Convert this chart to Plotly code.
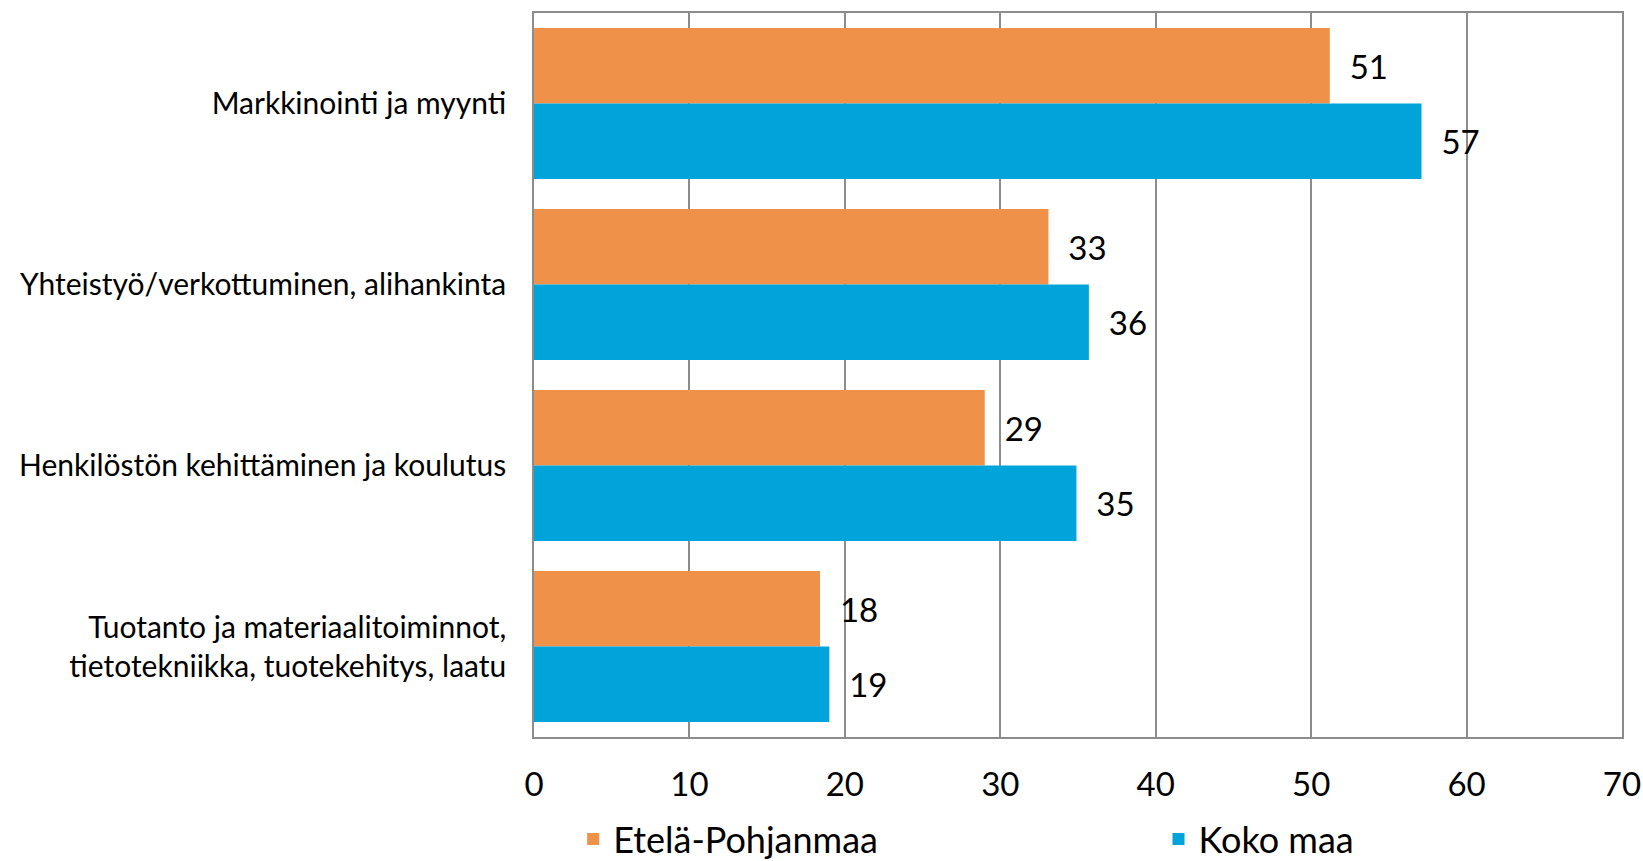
import plotly.graph_objects as go

categories = [
    "Markkinointi ja myynti",
    "Yhteistyö/verkottuminen, alihankinta",
    "Henkilöstön kehittäminen ja koulutus",
    "Tuotanto ja materiaalitoiminnot,<br>tietotekniikka, tuotekehitys, laatu",
]
etela_pohjanmaa = [51.2, 33.1, 29.0, 18.4]
koko_maa = [57.1, 35.7, 34.9, 19.0]
series_names = ["Etelä-Pohjanmaa", "Koko maa"]
x_ticks = [0, 10, 20, 30, 40, 50, 60, 70]

ORANGE = "#F0914A"
BLUE = "#00A3DA"
FONT = "Lato"

fig = go.Figure()
for name, vals, col, leg in [(series_names[0], etela_pohjanmaa, ORANGE, "legend"),
                             (series_names[1], koko_maa, BLUE, "legend2")]:
    fig.add_trace(go.Bar(
        y=categories, x=vals, name=name, orientation="h",
        marker=dict(color=col, line=dict(width=0)),
        texttemplate="  %{x:.0f}", textposition="outside",
        textfont=dict(size=33, color="#000000", family=FONT),
        cliponaxis=False, legend=leg,
    ))

leg_common = dict(orientation="h", yanchor="middle", y=-0.141, xanchor="left",
                  font=dict(size=36, family=FONT), itemclick=False,
                  bgcolor="rgba(0,0,0,0)", borderwidth=0)

fig.update_layout(
    width=1643, height=861,
    margin=dict(l=534, r=21, t=13, b=124, autoexpand=False),
    paper_bgcolor="white", plot_bgcolor="white",
    barmode="group", bargap=0.166, bargroupgap=0,
    font=dict(family=FONT, color="#000000"),
    showlegend=True,
    legend=dict(x=0.036, **leg_common),
    legend2=dict(x=0.574, **leg_common),
    xaxis=dict(
        range=[0, 70], tickvals=x_ticks, ticktext=[str(t) for t in x_ticks],
        showgrid=True, gridcolor="#8C8C8C", gridwidth=1.5,
        showline=True, linecolor="#8C8C8C", linewidth=1.5, mirror=True,
        zeroline=False, ticks="", ticklabelstandoff=18,
        tickfont=dict(size=33, family=FONT),
    ),
    yaxis=dict(
        autorange="reversed", showgrid=False,
        showline=True, linecolor="#8C8C8C", linewidth=1.5, mirror=True,
        ticks="", ticklabelstandoff=20,
        tickfont=dict(size=30, family=FONT),
    ),
)

fig.write_html("out.html", config={"displayModeBar": False},
               post_script="document.body.style.margin='0px';document.body.style.overflow='hidden';")
